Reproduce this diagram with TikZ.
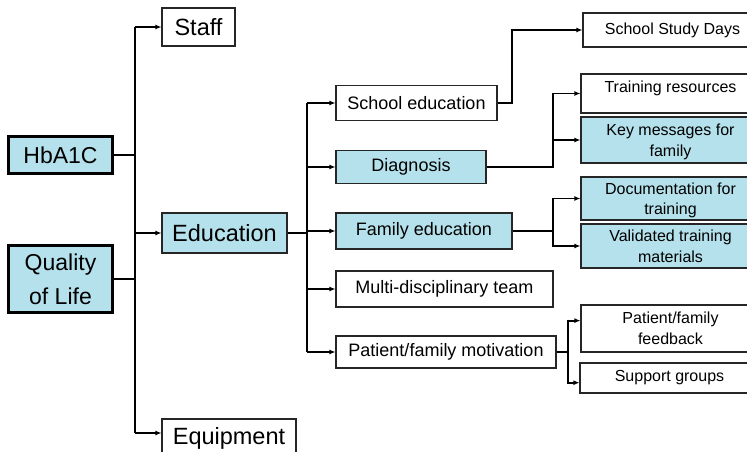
\documentclass[tikz,border=0pt]{standalone}
\usepackage{fontspec}
\setmainfont{Liberation Sans}
\usepackage{tikz}
\usetikzlibrary{arrows.meta}
\definecolor{driverblue}{HTML}{B4E1EB}

\begin{document}
\begin{tikzpicture}
    [
      x=1pt, y=-1pt,
      box/.style = {draw=black!85, line width=1.1pt, fill=white, inner sep=0pt, align=center},
      bluebox/.style = {box, fill=driverblue},
      rootbox/.style = {draw=black, line width=3pt, fill=driverblue, inner sep=0pt, align=center,
                        font=\fontsize{23}{34}\selectfont},
      lvlone/.style = {font=\fontsize{23.5}{28}\selectfont},
      lvltwo/.style = {font=\fontsize{18}{22}\selectfont},
      lvlthree/.style = {font=\fontsize{16}{20.5}\selectfont, minimum width=179pt},
      twoline/.style = {text depth=-4pt},
      link/.style = {line width=1.8pt},
      linkarrow/.style = {link, -{Latex[length=6pt,width=5pt]}}
    ]
    \useasboundingbox (0,0) rectangle (747,452);
    \clip (0,0) rectangle (747,452);

    % outcomes
    \node (hba) [rootbox, minimum width=104pt, minimum height=37pt] at (60.5,155) {HbA1C};
    \node (qol) [rootbox, minimum width=104pt, minimum height=67pt] at (60.5,279) {Quality\\of Life};

    % primary drivers
    \node (staff) [box, lvlone, minimum width=73pt, minimum height=38pt] at (198.5,27) {Staff};
    \node (edu) [bluebox, lvlone, minimum width=125pt, minimum height=40pt] at (224.5,233) {Education};
    \node (equip) [box, lvlone, minimum width=134pt, minimum height=39pt] at (229,438.5) {Equipment};

    % secondary drivers
    \node (school) [box, lvltwo, minimum width=161pt, minimum height=35pt] at (416.5,103) {School education};
    \node (diag) [bluebox, lvltwo, minimum width=150pt, minimum height=33pt] at (411,167) {Diagnosis};
    \node (famedu) [bluebox, lvltwo, minimum width=176pt, minimum height=36pt] at (424,231) {Family education};
    \node (multi) [box, lvltwo, minimum width=217pt, minimum height=36pt] at (444.5,289) {Multi-disciplinary team};
    \node (motiv) [box, lvltwo, minimum width=220pt, minimum height=32pt] at (446,352) {Patient/family motivation};

    % change ideas
    \node (study) [box, lvlthree, minimum height=34pt] at (672.5,30) {School Study Days};
    \node (train) [box, lvlthree, minimum height=39pt, text depth=14pt] at (670.5,93.5) {Training resources};
    \node (keymsg) [bluebox, lvlthree, twoline, minimum height=46pt] at (670.5,140) {Key messages for\\family};
    \node (doc) [bluebox, lvlthree, twoline, minimum height=43pt] at (670.5,198.5) {Documentation for\\training};
    \node (valid) [bluebox, lvlthree, twoline, minimum height=44pt] at (670.5,246) {Validated training\\materials};
    \node (fb) [box, lvlthree, minimum height=47pt] at (670.5,328.5) {Patient/family\\feedback};
    \node (support) [box, lvlthree, minimum height=30pt] at (669.5,378) {Support groups};

    % joins
    \coordinate (trunk) at (135,0);
    \coordinate (trunkend) at (135,433);
    \coordinate (branch) at (307,0);
    \coordinate (studyjoin) at (512,30);
    \coordinate (diagjoin) at (553,0);
    \coordinate (motivjoin) at (568,0);

    % first level
    \draw[link] (hba.east) -- (hba.east -| trunk);
    \draw[link] (qol.east) -- (qol.east -| trunk);
    \draw[link] (trunk |- staff.west) -- (trunkend);
    \draw[linkarrow] (trunk |- staff.west) -- (staff.west);
    \draw[linkarrow] (trunk |- edu.west) -- (edu.west);
    \draw[linkarrow] (trunkend) -- (equip.west |- trunkend);

    % second level
    \draw[link] (edu.east) -- (edu.east -| branch);
    \draw[link] (branch |- school.west) -- (branch |- motiv.west);
    \foreach \n in {school, diag, famedu, multi, motiv}
      \draw[linkarrow] (branch |- \n.west) -- (\n.west);

    % third level
    \draw[linkarrow] (school.east) -| (studyjoin) -- (study.west);
    \draw[linkarrow] (diag.east) -| (diagjoin |- train.west) -- (train.west);
    \draw[linkarrow] (diag.east -| diagjoin) |- (keymsg.west);
    \draw[linkarrow] (famedu.east) -| (diagjoin |- doc.west) -- (doc.west);
    \draw[linkarrow] (famedu.east -| diagjoin) |- (valid.west);
    \draw[linkarrow] (motiv.east) -| (motivjoin |- fb.175) -- (fb.175);
    \draw[linkarrow] (motiv.east -| motivjoin) |- (support.183);
\end{tikzpicture}
\end{document}
